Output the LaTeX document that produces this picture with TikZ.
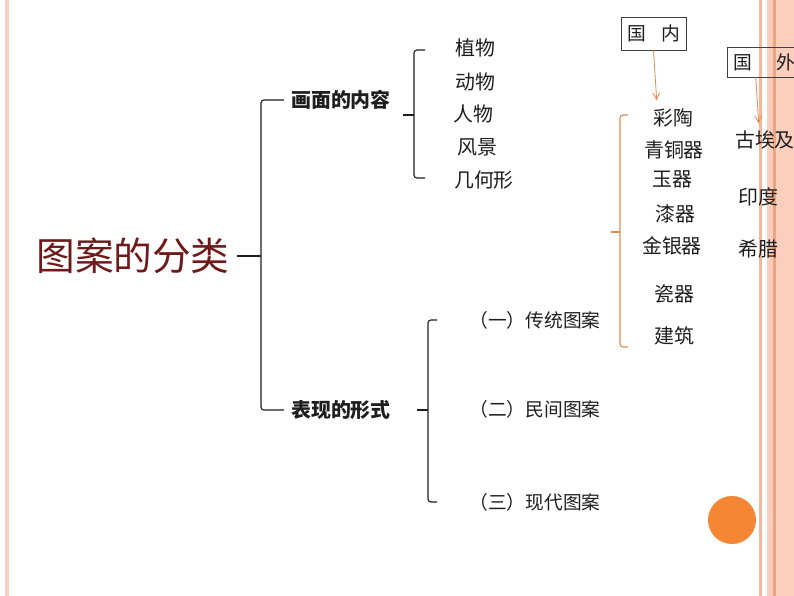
\documentclass[tikz,border=0pt]{standalone}
\usepackage{fontspec}
\setmainfont{Noto Sans CJK SC}
\usetikzlibrary{arrows.meta,calc}
\definecolor{ink}{RGB}{30,30,30}
\definecolor{titlered}{RGB}{110,26,26}
\definecolor{peach}{RGB}{251,206,190}
\definecolor{salmon}{RGB}{246,182,154}
\definecolor{rust}{RGB}{238,164,124}
\definecolor{amber}{RGB}{228,142,82}
\definecolor{dotfill}{RGB}{245,134,52}
\tikzset{
  item/.style={font=\fontsize{17}{20}\selectfont,inner sep=1pt,text=ink},
  head/.style={font=\bfseries\fontsize{17}{20}\selectfont,inner sep=1pt,text=ink},
  kind/.style={font=\fontsize{16}{19}\selectfont,inner sep=1pt,text=ink},
  tag/.style={draw=ink!85,line width=0.6pt,inner sep=1pt,
    font=\fontsize{16}{18}\selectfont,text=ink},
  brk/.style={line width=1pt,rounded corners=2.5pt,ink},
  obrk/.style={brk,amber},
  arr/.style={-{Straight Barb[length=2mm,width=2mm]},amber,line width=0.7pt},
}

\begin{document}
\begin{tikzpicture}[x=0.03cm,y=-0.03cm]
  \useasboundingbox (0,0) rectangle (794,596);
  % page stripes
  \fill[white] (0,0) rectangle (794,596);
  \fill[peach] (4.5,0) rectangle (9,596);
  \fill[salmon] (759,0) rectangle (762,596);
  \fill[peach] (767,0) rectangle (794,596);
  \fill[rust] (773,0) rectangle (775.5,596);
  \fill[salmon!70] (769.5,0) rectangle (770.5,596);

  % root and two branches
  \node[font=\fontsize{33}{36}\selectfont,text=titlered,inner sep=1pt] (title) at (133,256) {图案的分类};
  \node[head] (neirong) at (341,100) {画面的内容};
  \node[head] (xingshi) at (341,410) {表现的形式};

  % content list
  \node[item] (zhiwu) at (475,48) {植物};
  \node[item] (dongwu) at (475,82) {动物};
  \node[item] (renwu) at (473,114) {人物};
  \node[item] (fengjing) at (477,147) {风景};
  \node[item] (jihe) at (484,180) {几何形};

  % form list
  \node[kind] (chuantong) at (535,320) {（一）传统图案};
  \node[kind] (minjian) at (535,409) {（二）民间图案};
  \node[kind] (xiandai) at (535,502) {（三）现代图案};

  % domestic
  \node[tag,minimum width=1.95cm,minimum height=0.99cm] (guonei) at (653.5,33.5) {国\hspace{0.8em}内};
  \node[item] (caitao) at (673,118) {彩陶};
  \node[item] (qingtong) at (674,150) {青铜器};
  \node[item] (yuqi) at (672,179) {玉器};
  \node[item] (qiqi) at (675,214) {漆器};
  \node[item] (jinyin) at (672,246) {金银器};
  \node[item] (ciqi) at (674,294) {瓷器};
  \node[item] (jianzhu) at (674,336) {建筑};

  % foreign
  \node[tag,minimum width=2.25cm,minimum height=0.9cm] (guowai) at (764.5,62) {国\hspace{1.3em}外};
  \node[item] (aiji) at (765,140) {古埃及};
  \node[item] (yindu) at (758,197) {印度};
  \node[item] (xila) at (758,249) {希腊};

  % braces
  \coordinate (b1) at (261,256);
  \draw[brk] ($(neirong.west)+(-6,0)$) -- (neirong.west -| b1) -- (xingshi.west -| b1) -- ($(xingshi.west)+(-6,0)$);
  \draw[brk,shorten <=5pt] (title.east) -- (b1);

  \coordinate (b2) at (414,115);
  \draw[brk] ($(zhiwu.west -| b2)+(11,2)$) -- ($(zhiwu.west -| b2)+(0,2)$) -- ($(jihe.west -| b2)+(0,-2)$) -- ($(jihe.west -| b2)+(11,-2)$);
  \draw[brk] ($(b2)+(-11,0)$) -- (b2);

  \coordinate (b3) at (428,410);
  \draw[brk] ($(chuantong.west -| b3)+(9,0)$) -- (chuantong.west -| b3) -- (xiandai.west -| b3) -- ($(xiandai.west -| b3)+(9,0)$);
  \draw[brk] ($(b3)+(-11,0)$) -- (b3);

  \coordinate (b4) at (620,232);
  \draw[obrk] ($(b4)+(8,-117)$) -- ($(b4)+(0,-117)$) -- ($(b4)+(0,115)$) -- ($(b4)+(8,115)$);
  \draw[obrk] ($(b4)+(-9,0)$) -- (b4);

  % arrows
  \draw[arr] (guonei.south) -- ($(caitao.north west)+(5,-7)$);
  \draw[arr] (guowai.south -| aiji.north west) ++(22,0) -- ($(aiji.north west)+(25,-6)$);

  % dot
  \fill[dotfill] (732,520) circle (0.72cm);
\end{tikzpicture}
\end{document}
